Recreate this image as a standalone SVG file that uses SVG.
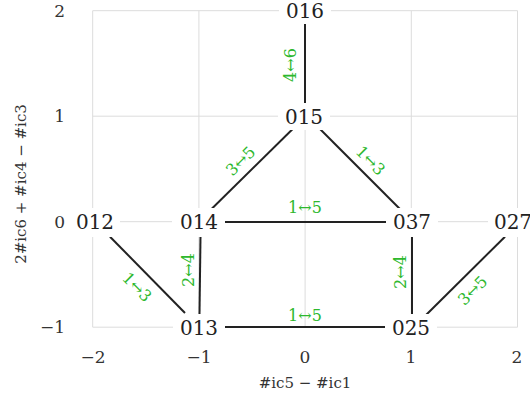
<svg xmlns="http://www.w3.org/2000/svg" width="530" height="395" viewBox="0 0 530 395">
<style>
.grid{stroke:#dcdcdc;stroke-width:1;fill:none}
.tick{font-family:'DejaVu Serif',serif;font-size:17px;fill:#333}
.title{font-family:'DejaVu Serif',serif;font-size:15px;fill:#333}
.nbg{fill:#fff}
.nlabel{font-family:'DejaVu Serif',serif;font-size:20px;fill:#222;text-anchor:middle;font-variant-numeric:oldstyle-nums}
.edge{stroke:#222;stroke-width:2;fill:none}
.elabel{font-family:'DejaVu Serif',serif;font-size:16px;fill:#2db82d;text-anchor:middle;dominant-baseline:central}
</style>
<rect width="530" height="395" fill="#fff"/>
<g id="grid">
<path class="grid" d="M92.7 10.7V327.2M198.9 10.7V327.2M305.1 10.7V327.2M411.3 10.7V327.2M517.5 10.7V327.2M92.7 10.7H517.5M92.7 116.2H517.5M92.7 221.7H517.5M92.7 327.2H517.5"/>
</g>
<g id="axes">
<text class="tick" x="65" y="17" text-anchor="end">2</text>
<text class="tick" x="65" y="122" text-anchor="end">1</text>
<text class="tick" x="65" y="228" text-anchor="end">0</text>
<text class="tick" x="65" y="333" text-anchor="end">−1</text>
<text class="tick" x="93" y="363" text-anchor="middle">−2</text>
<text class="tick" x="199" y="363" text-anchor="middle">−1</text>
<text class="tick" x="305" y="363" text-anchor="middle">0</text>
<text class="tick" x="411" y="363" text-anchor="middle">1</text>
<text class="tick" x="517" y="363" text-anchor="middle">2</text>
<text class="title" x="305" y="388" text-anchor="middle">#ic5 − #ic1</text>
<text class="title" transform="translate(26 184) rotate(-90)" text-anchor="middle">2#ic6 + #ic4 − #ic3</text>
</g>
<g id="connectors">
<line class="edge" x1="305" y1="22.7" x2="305" y2="104"/>
<line class="edge" x1="292.7" y1="129" x2="210" y2="210.5"/>
<line class="edge" x1="319" y1="128" x2="401.7" y2="210.7"/>
<line class="edge" x1="222.7" y1="222" x2="387.7" y2="222"/>
<line class="edge" x1="200.5" y1="236.7" x2="199.5" y2="314"/>
<line class="edge" x1="110" y1="236.7" x2="185" y2="313"/>
<line class="edge" x1="223" y1="327" x2="387" y2="327"/>
<line class="edge" x1="412" y1="236" x2="412" y2="315"/>
<line class="edge" x1="505" y1="236.7" x2="426" y2="315"/>
<text class="elabel" transform="translate(290.5 65) rotate(-90)">4↔6</text>
<text class="elabel" transform="translate(240.5 161) rotate(-45)">3↔5</text>
<text class="elabel" transform="translate(370.5 160.5) rotate(45)">1↔3</text>
<text class="elabel" x="305" y="207">1↔5</text>
<text class="elabel" transform="translate(188 270) rotate(-90)">2↔4</text>
<text class="elabel" transform="translate(137 287) rotate(45)">1↔3</text>
<text class="elabel" x="305" y="315">1↔5</text>
<text class="elabel" transform="translate(400 272) rotate(-90)">2↔4</text>
<text class="elabel" transform="translate(472.5 290.5) rotate(-45)">3↔5</text>
</g>
<g id="o16"><rect class="nbg" x="279" y="-3" width="52" height="27"/><text class="nlabel" x="305" y="18">016</text></g>
<g id="o15"><rect class="nbg" x="278" y="103" width="52" height="27"/><text class="nlabel" x="304" y="123.5">015</text></g>
<g id="o14"><rect class="nbg" x="172" y="208" width="53" height="29"/><text class="nlabel" x="199" y="229">014</text></g>
<g id="o12"><rect class="nbg" x="70" y="208" width="50" height="29"/><text class="nlabel" x="95" y="229">012</text></g>
<g id="o37"><rect class="nbg" x="386" y="208" width="52" height="29"/><text class="nlabel" x="412" y="229">037</text></g>
<g id="o27"><rect class="nbg" x="488" y="208" width="52" height="29"/><text class="nlabel" x="513" y="229">027</text></g>
<g id="o13"><rect class="nbg" x="173" y="314" width="52" height="27"/><text class="nlabel" x="199" y="334.5">013</text></g>
<g id="o25"><rect class="nbg" x="385" y="314" width="52" height="27"/><text class="nlabel" x="411" y="334.5">025</text></g>
</svg>
